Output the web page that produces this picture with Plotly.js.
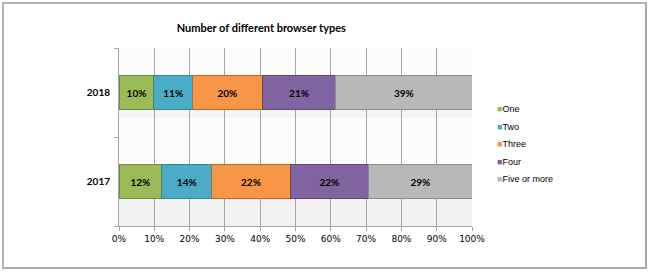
<!DOCTYPE html>
<html>
<head>
<meta charset="utf-8">
<script src="https://cdn.plot.ly/plotly-3.0.1.min.js"></script>
<style>
html,body{margin:0;padding:0;background:#fff;}
#frame{position:absolute;left:2px;top:2px;width:641px;height:263px;border:2px solid #b4b4b4;border-right-color:#a8a8a8;border-bottom-color:#a8a8a8;}
#chart{position:absolute;left:0;top:0;width:650px;height:273px;}
</style>
</head>
<body>
<div id="frame"></div>
<div id="chart"></div>
<script>
const years = ["2017", "2018"];
const seriesNames = ["One", "Two", "Three", "Four", "Five or more"];
const one = [12, 10];
const two = [14, 11];
const three = [22, 20];
const four = [22, 21];
const fiveOrMore = [29, 39];
const xTickVals = [0, 10, 20, 30, 40, 50, 60, 70, 80, 90, 100];
const xTickText = ["0%", "10%", "20%", "30%", "40%", "50%", "60%", "70%", "80%", "90%", "100%"];

const seriesValues = [one, two, three, four, fiveOrMore];
const colors = ["#9bbb59", "#4bacc6", "#f79646", "#8064a2", "#b8b8b8"];
const edges = ["#71893f", "#31859c", "#c0652a", "#5c4776", "#8c8c8c"];

const traces = seriesNames.map((name, i) => ({
  type: "bar",
  orientation: "h",
  name: name,
  y: years,
  x: seriesValues[i],
  text: seriesValues[i].map(v => v + "%"),
  texttemplate: "%{text}",
  textposition: "inside",
  insidetextanchor: "middle",
  textangle: 0,
  textfont: {family: "Lato, 'Noto Sans', sans-serif", size: 10, color: "#000", weight: "bold"},
  marker: {color: colors[i], line: {color: edges[i], width: 1}},
  showlegend: false,
  hoverinfo: "none"
}));

// custom compact legend (small squares close to the text), built from the series names/colours
const legendTop = 109, legendStep = 17.6, plotTop = 48, plotH = 178;
const annotations = seriesNames.map((name, i) => ({
  xref: "paper", yref: "paper",
  x: (495 - 119) / 353, xanchor: "left",
  y: 1 - (legendTop + i * legendStep - plotTop) / plotH, yanchor: "middle",
  text: '<span style="color:' + colors[i] + '">■</span>' + name,
  showarrow: false,
  font: {family: "'Liberation Sans', Arial, sans-serif", size: 9, color: "#000"}
}));

const layout = {
  width: 650, height: 273,
  paper_bgcolor: "rgba(0,0,0,0)",
  plot_bgcolor: "#fcfcfc",
  margin: {l: 119, r: 178, t: 48, b: 47},
  barmode: "stack",
  barnorm: "percent",
  bargap: 0.61,
  title: {
    text: "<b>Number of different browser types</b>",
    font: {family: "Lato, 'Noto Sans', sans-serif", size: 11, color: "#000"},
    xref: "container", x: 0.402, xanchor: "center",
    yref: "container", y: 1 - 28/273, yanchor: "middle"
  },
  xaxis: {
    range: [0, 100],
    tickvals: xTickVals,
    ticktext: xTickText,
    showgrid: true,
    gridcolor: "#a6a6a6",
    gridwidth: 1,
    showline: true,
    linecolor: "#a6a6a6",
    ticks: "outside",
    ticklen: 4,
    tickcolor: "#a6a6a6",
    tickfont: {family: "'DejaVu Sans', sans-serif", size: 9, color: "#000"},
    zeroline: false,
    fixedrange: true
  },
  yaxis: {
    type: "category",
    categoryorder: "array",
    categoryarray: years,
    range: [-0.5, 1.5],
    showline: true,
    linecolor: "#a6a6a6",
    ticks: "outside",
    tickson: "boundaries",
    ticklen: 4,
    tickcolor: "#a6a6a6",
    showgrid: false,
    tickfont: {family: "Lato, 'Noto Sans', sans-serif", size: 10, color: "#000", weight: "bold"},
    ticklabelstandoff: 6,
    fixedrange: true
  },
  shapes: [
    {type: "rect", layer: "below", xref: "paper", yref: "y", x0: 0, x1: 1, y0: -0.5, y1: -0.2, fillcolor: "#f2f2f2", line: {width: 0}},
    {type: "rect", layer: "below", xref: "paper", yref: "y", x0: 0, x1: 1, y0: 0.72, y1: 0.8, fillcolor: "#f4f4f4", line: {width: 0}}
  ],
  annotations: annotations,
  showlegend: false
};

Plotly.newPlot("chart", traces, layout, {displayModeBar: false, staticPlot: true});
</script>
</body>
</html>
